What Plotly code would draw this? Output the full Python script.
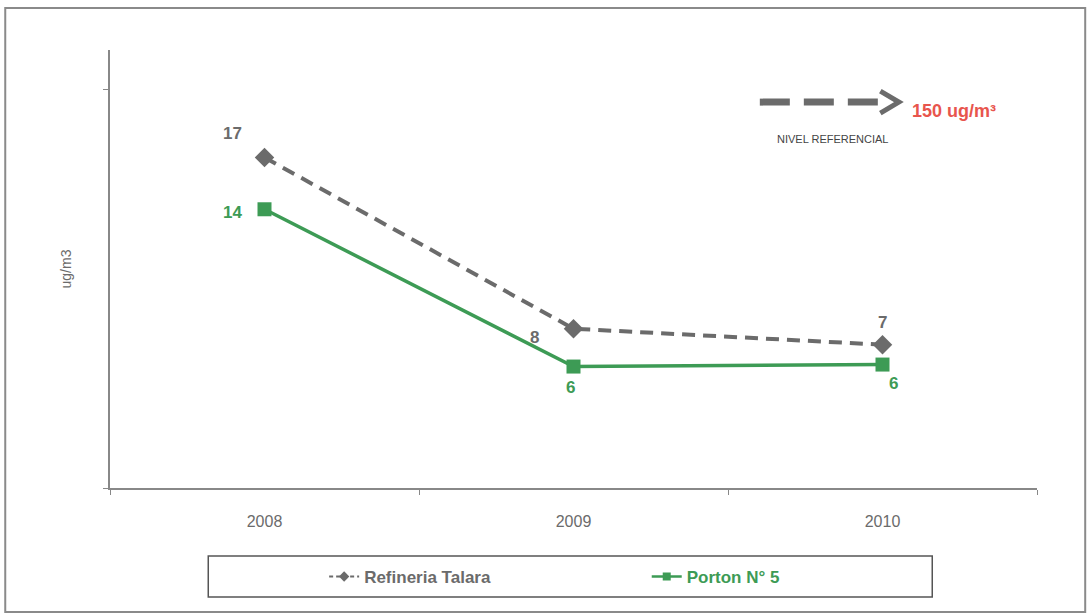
import plotly.graph_objects as go

years = ['2008', '2009', '2010']
refineria = [16.6, 8.0, 7.2]
porton = [14.0, 6.1, 6.2]

gray = '#6b6b6b'
green = '#3d9b55'
font = 'Liberation Sans, Arial, sans-serif'

fig = go.Figure()

fig.add_trace(go.Scatter(
    x=years, y=refineria, mode='lines+markers', showlegend=False,
    line=dict(color=gray, width=4, dash='13px,8px'),
    marker=dict(symbol='diamond', size=15, color=gray),
))
fig.add_trace(go.Scatter(
    x=years, y=porton, mode='lines+markers', showlegend=False,
    line=dict(color=green, width=3.5),
    marker=dict(symbol='square', size=14, color=green),
))

# legend entries with smaller symbols
fig.add_trace(go.Scatter(
    x=[None], y=[None], name='<b>Refineria Talara</b>', mode='lines+markers',
    line=dict(color=gray, width=2, dash='4px,3px'),
    marker=dict(symbol='diamond', size=8, color=gray),
    legend='legend', showlegend=True
))
fig.add_trace(go.Scatter(
    x=[None], y=[None], name='<b>Porton N° 5</b>', mode='lines+markers',
    line=dict(color=green, width=2.5),
    marker=dict(symbol='square', size=8, color=green),
    legend='legend2', showlegend=True
))

# data labels (x given as category index)
shifts_ref = [(-32, 24), (-39, -9), (0, 22)]
shifts_por = [(-32, -3), (-3, -21), (11, -19)]
for i, (v, (dx, dy)) in enumerate(zip(refineria, shifts_ref)):
    fig.add_annotation(x=i, y=v, text=f'<b>{v:.0f}</b>', showarrow=False,
                       xshift=dx, yshift=dy,
                       font=dict(color=gray, size=17, family=font))
for i, (v, (dx, dy)) in enumerate(zip(porton, shifts_por)):
    fig.add_annotation(x=i, y=v, text=f'<b>{v:.0f}</b>', showarrow=False,
                       xshift=dx, yshift=dy,
                       font=dict(color=green, size=17, family=font))

# outer frame and legend box
fig.add_shape(type='rect', xref='paper', yref='paper',
              x0=-0.113, x1=1.052, y0=-0.283, y1=1.096,
              line=dict(color='#8a8a8a', width=2))
fig.add_shape(type='rect', xref='paper', yref='paper',
              x0=0.106, x1=0.887, y0=-0.249, y1=-0.155,
              line=dict(color='#555555', width=1.5))

# reference level marker
fig.add_shape(type='line', xref='paper', yref='paper',
              x0=0.701, x1=0.833, y0=0.881, y1=0.881,
              line=dict(color=gray, width=7, dash='30px,14px'))
fig.add_shape(type='path', xref='paper', yref='paper',
              path='M 0.831 0.906 L 0.851 0.881 L 0.831 0.856',
              line=dict(color=gray, width=5))
fig.add_annotation(x=0.863, y=0.887, xref='paper', yref='paper',
                   xanchor='left', showarrow=False,
                   text='<b>150 ug/m³</b>',
                   font=dict(color='#e8554d', size=18, family=font))
fig.add_annotation(x=0.779, y=0.814, xref='paper', yref='paper',
                   xanchor='center', showarrow=False,
                   text='NIVEL REFERENCIAL',
                   font=dict(color='#444444', size=11, family=font))

fig.update_layout(
    width=1089, height=616,
    margin=dict(l=110, r=52, t=50, b=128, autoexpand=False),
    plot_bgcolor='white', paper_bgcolor='white',
    font=dict(family=font, color=gray),
    showlegend=True,
    legend=dict(orientation='h', x=0.231, y=-0.203, yanchor='middle',
                xanchor='left', bgcolor='rgba(0,0,0,0)',
                font=dict(size=17, color=gray, family=font)),
    legend2=dict(orientation='h', x=0.579, y=-0.203, yanchor='middle',
                 xanchor='left', bgcolor='rgba(0,0,0,0)',
                 font=dict(size=17, color=green, family=font)),
)

fig.update_xaxes(type='category', range=[-0.5, 2.5], showline=True,
                 linecolor='#888888', linewidth=1.5, showgrid=False,
                 ticks='outside', ticklen=5, tickcolor='#888888',
                 tickson='boundaries', ticklabelstandoff=18,
                 tickfont=dict(size=16, color=gray, family=font))
fig.update_yaxes(range=[0, 22], showline=True, linecolor='#888888',
                 linewidth=1.5, showgrid=False, zeroline=False,
                 ticks='outside', ticklen=5, tickcolor='#888888',
                 tickvals=[0, 20], showticklabels=False,
                 title=dict(text='ug/m3', standoff=28,
                            font=dict(size=14, color=gray, family=font)))

fig.write_html('out.html', config={'displayModeBar': False},
               post_script="document.body.style.margin='0';")
